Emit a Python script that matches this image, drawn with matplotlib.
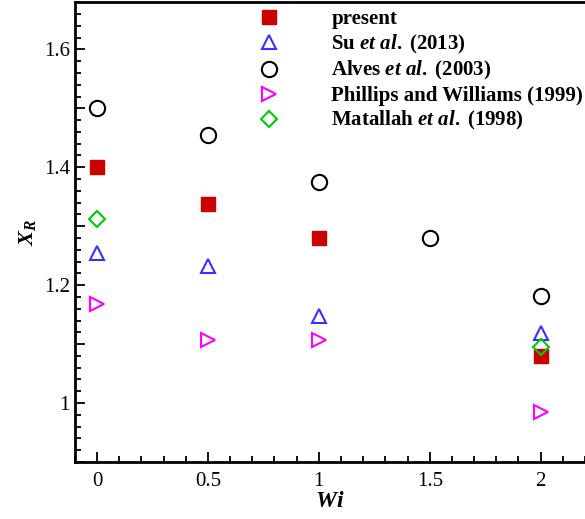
import matplotlib.pyplot as plt
import numpy as np

plt.rcParams['font.family'] = ['Liberation Serif', 'DejaVu Serif']
plt.rcParams['mathtext.fontset'] = 'custom'
plt.rcParams['mathtext.rm'] = 'Liberation Serif:bold'
plt.rcParams['mathtext.it'] = 'Liberation Serif:italic:bold'
plt.rcParams['mathtext.bf'] = 'Liberation Serif:bold'

# data
wi_present = [0, 0.5, 1, 2]
xr_present = [1.40, 1.337, 1.28, 1.08]
wi_su = [0, 0.5, 1, 2]
xr_su = [1.255, 1.233, 1.148, 1.119]
wi_alves = [0, 0.5, 1, 1.5, 2]
xr_alves = [1.50, 1.454, 1.375, 1.28, 1.181]
wi_phil = [0, 0.5, 1, 2]
xr_phil = [1.168, 1.107, 1.107, 0.985]
wi_mat = [0, 2]
xr_mat = [1.313, 1.095]

fig = plt.figure(figsize=(5.85, 5.19), dpi=100)
ax = fig.add_axes([0.128, 0.1098, 0.872, 0.886])

ax.plot(wi_present, xr_present, 's', color='#cc0000', ms=10.5, ls='none', label='present')
ax.plot(wi_su, xr_su, '^', mfc='none', mec='#3333ff', mew=1.5, ms=10, ls='none',
        label=r'Su $et\ al.\;$(2013)')
ax.plot(wi_alves, xr_alves, 'o', mfc='none', mec='black', mew=1.5, ms=11, ls='none',
        label=r'Alves $et\ al.\;$(2003)')
ax.plot(wi_phil, xr_phil, '>', mfc='none', mec='#ff00ff', mew=1.5, ms=10, ls='none',
        label='Phillips and Williams (1999)')
ax.plot(wi_mat, xr_mat, 'D', mfc='none', mec='#00cc00', mew=1.5, ms=8.5, ls='none',
        label=r'Matallah $et\ al.\;$(1998)')

ax.set_xlim(-0.1, 2.2)
ax.set_ylim(0.9, 1.68)
ax.set_xticks([0, 0.5, 1, 1.5, 2])
ax.set_xticklabels(['0', '0.5', '1', '1.5', '2'])
ax.set_xticks(np.arange(-0.1, 2.21, 0.1), minor=True)
yt = [0.9, 1.0, 1.1, 1.2, 1.3, 1.4, 1.5, 1.6]
ax.set_yticks(yt)
ax.set_yticklabels(['', '1', '', '1.2', '', '1.4', '', '1.6'])
ax.set_yticks(np.arange(0.9, 1.681, 0.02), minor=True)
ax.tick_params(which='both', direction='in', labelsize=15, width=1.3)
ax.tick_params(which='major', length=7)
ax.tick_params(which='minor', length=4)
ax.tick_params(axis='x', pad=7)
for s in ['left', 'bottom', 'top']:
    ax.spines[s].set_linewidth(2)
ax.spines['right'].set_visible(False)

ax.set_xlabel(r'$Wi$', fontsize=17, labelpad=0)
ax.set_ylabel(r'$X_R$', fontsize=16, labelpad=4)

leg = ax.legend(loc='upper left', bbox_to_anchor=(0.335, 1.012), frameon=False,
                numpoints=1, handlelength=1.0, handletextpad=2.5, labelspacing=0.17,
                borderaxespad=0.2, prop={'size': 15, 'weight': 'bold'})

fig.savefig('out.png', dpi=100)
